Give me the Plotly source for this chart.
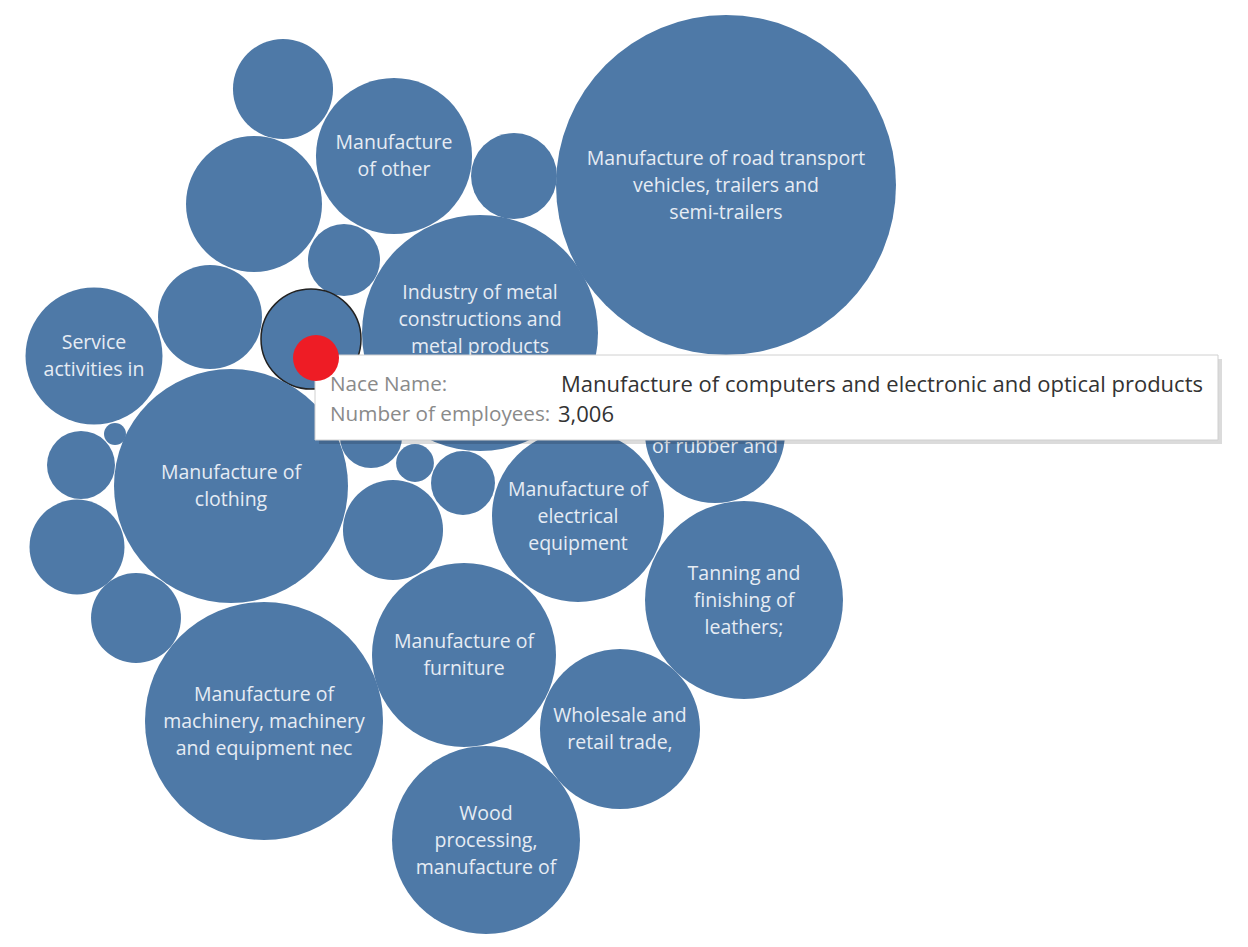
import plotly.graph_objects as go

ancho = 1248
alto = 947
borde = 8  # body margin of the html page

# Number of employees per NACE sector (bubble area ~ value)
nace_names = [
    "Manufacture of beverages",
    "Manufacture of other products",
    "Printing and reproduction of recorded media",
    "Manufacture of road transport vehicles, trailers and semi-trailers",
    "Manufacture of food products",
    "Manufacture of paper and paper products",
    "Industry of metal constructions and metal products except machinery",
    "Manufacture of textiles",
    "Manufacture of computers and electronic and optical products",
    "Service activities in repair and installation",
    "Manufacture of clothing",
    "Mining and quarrying",
    "Manufacture of chemicals",
    "Manufacture of other non-metallic mineral products",
    "Manufacture of basic metals",
    "Manufacture of machinery, machinery and equipment nec",
    "Manufacture of other transport equipment",
    "Manufacture of pharmaceutical products",
    "Repair of machinery",
    "Construction",
    "Manufacture of products of rubber and plastic",
    "Manufacture of electrical equipment",
    "Tanning and finishing of leathers; manufacture of footwear",
    "Manufacture of furniture",
    "Wholesale and retail trade, repair of motor vehicles",
    "Wood processing, manufacture of wood products",
]
employees = [3010, 7320, 2220, 34750, 5560, 1560, 16740, 3250, 3006, 5640,
             16460, 145, 1390, 2710, 2430, 17030, 1160, 430, 1230, 3010,
             5890, 8890, 11780, 10180, 7700, 10620]
# labels shown inside bubbles (Tableau truncates long names);
# "" = line hidden behind the tooltip
labels = [
    [],
    ["Manufacture", "of other"],
    [],
    ["Manufacture of road transport", "vehicles, trailers and", "semi-trailers"],
    [], [],
    ["Industry of metal", "constructions and", "metal products", ""],
    [], [],
    ["Service", "activities in"],
    ["Manufacture of", "clothing"],
    [], [], [], [],
    ["Manufacture of", "machinery, machinery", "and equipment nec"],
    [], [], [], [],
    ["", "of rubber and"],
    ["Manufacture of", "electrical", "equipment"],
    ["Tanning and", "finishing of", "leathers;"],
    ["Manufacture of", "furniture"],
    ["Wholesale and", "retail trade,"],
    ["Wood", "processing,", "manufacture of"],
]
# packed bubble layout (pixel space of the view)
pack_x = [283, 394, 514, 726, 254, 344, 480, 210, 311, 94, 231, 115, 81, 77,
          136, 264, 371, 415, 463, 393, 715, 578, 744, 464, 620, 486]
pack_y = [89, 156, 176, 185, 204, 260, 333, 317, 339, 356, 486, 434, 465, 547,
          618, 721, 437, 463, 483, 530, 433, 516, 600, 655, 729, 840]

selected = "Manufacture of computers and electronic and optical products"

escala = 50 / 3006 ** 0.5
diametros = [2 * escala * v ** 0.5 for v in employees]
idx_sel = nace_names.index(selected)

fig = go.Figure()

fig.add_trace(go.Scatter(
    x=pack_x, y=pack_y, mode="markers",
    marker=dict(size=diametros, color="#4e79a7", opacity=1,
                line=dict(color=["#222222" if i == idx_sel else "rgba(0,0,0,0)" for i in range(len(pack_x))],
                          width=[1.5 if i == idx_sel else 0 for i in range(len(pack_x))])),
    hovertext=nace_names, hoverinfo="text", showlegend=False))

# bubble labels, line by line (Tableau line height ~27px)
tx, ty, tt = [], [], []
for cx, cy, lines in zip(pack_x, pack_y, labels):
    n = len(lines)
    for i, linea in enumerate(lines):
        if not linea:
            continue
        tx.append(cx)
        ty.append(cy + 2 + (i - (n - 1) / 2) * 27)
        tt.append(linea)
fig.add_trace(go.Scatter(
    x=tx, y=ty, text=tt, mode="text", textposition="middle center",
    textfont=dict(family="Open Sans", size=19.5, color="#e6ecf4"),
    hoverinfo="skip", showlegend=False))

# tooltip box (shadow + box)
fig.add_trace(go.Scatter(
    x=[319, 1222, 1222, 319, 319], y=[359, 359, 444, 444, 359],
    fill="toself", fillcolor="rgba(0,0,0,0.14)", line=dict(width=0),
    mode="lines", hoverinfo="skip", showlegend=False))
fig.add_trace(go.Scatter(
    x=[315, 1218, 1218, 315, 315], y=[355, 355, 440, 440, 355],
    fill="toself", fillcolor="white", line=dict(color="#d0d0d0", width=1),
    mode="lines", hoverinfo="skip", showlegend=False))

# red hover marker
fig.add_trace(go.Scatter(
    x=[316], y=[358], mode="markers",
    marker=dict(size=46, color="#ee1c25"),
    hoverinfo="skip", showlegend=False))

fig.add_annotation(x=328, y=383, xref="x", yref="y", text="Nace Name:", showarrow=False,
                   xanchor="left", yanchor="middle",
                   font=dict(family="Open Sans", size=20.7, color="#8a8a8a"))
fig.add_annotation(x=559, y=383, xref="x", yref="y", text=selected, showarrow=False,
                   xanchor="left", yanchor="middle",
                   font=dict(family="Open Sans", size=22, color="#333333"))
fig.add_annotation(x=328, y=413, xref="x", yref="y", text="Number of employees:", showarrow=False,
                   xanchor="left", yanchor="middle",
                   font=dict(family="Open Sans", size=20.7, color="#8a8a8a"))
fig.add_annotation(x=556, y=413, xref="x", yref="y", text=f"{employees[idx_sel]:,}", showarrow=False,
                   xanchor="left", yanchor="middle",
                   font=dict(family="Open Sans", size=22, color="#333333"))

fig.update_layout(
    autosize=False, width=ancho, height=alto,
    margin=dict(l=0, r=0, t=0, b=0, pad=0),
    paper_bgcolor="white", plot_bgcolor="white",
    xaxis=dict(range=[borde, ancho + borde], visible=False, showgrid=False, zeroline=False),
    yaxis=dict(range=[alto + borde, borde], visible=False, showgrid=False, zeroline=False),
    hovermode="closest",
)

fig.write_html("out.html", config={"displayModeBar": False})
